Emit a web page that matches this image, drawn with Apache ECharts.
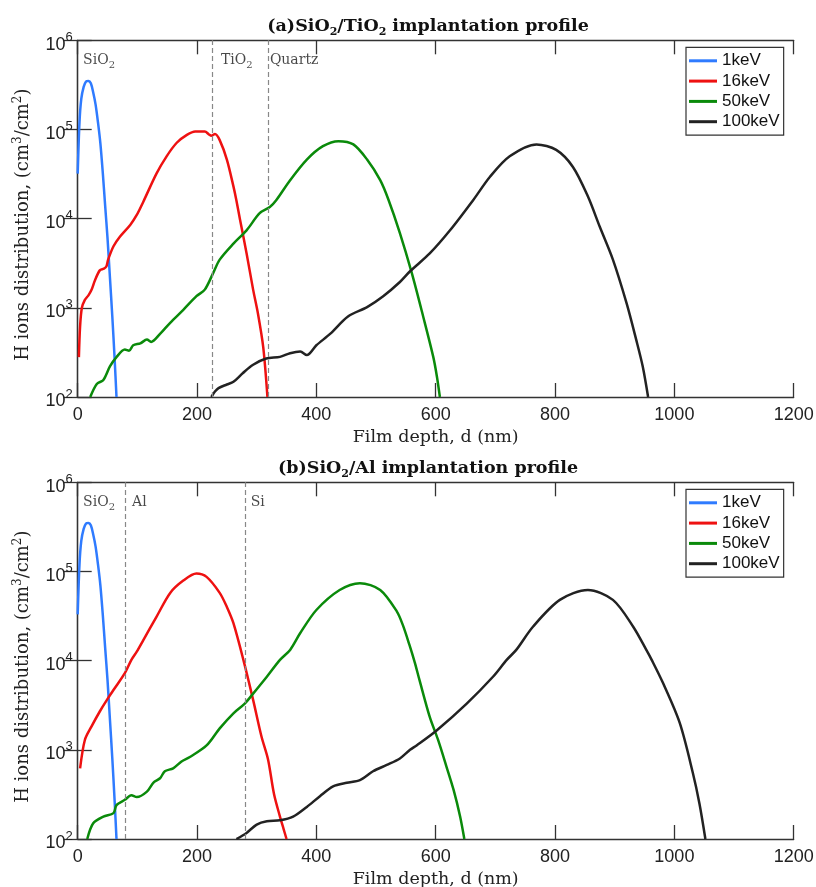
<!DOCTYPE html>
<html><head><meta charset="utf-8">
<script src="https://cdn.jsdelivr.net/npm/echarts@6/dist/echarts.min.js"></script>
<style>html,body{margin:0;padding:0;background:#fff}#c{width:816px;height:887px}</style>
</head><body><div id="c"></div><script>
const energies = ['1keV', '16keV', '50keV', '100keV'];
const colors = ['#2f7bff', '#ee1111', '#0a8a0a', '#222222'];

// (a) SiO2/TiO2
const a1 = [[0,32000],[3,120000],[6,220000],[10,300000],[14,345000],[18,350000],[22,330000],[26,260000],[30,190000],[34,120000],[38,70000],[42,33000],[46,14000],[50,6000],[54,2200],[58,800],[62,260],[65,100]];
const a16 = [[2,280],[4,620],[7,1000],[12,1230],[18,1380],[23,1580],[29,2040],[37,2630],[44,2750],[48,2900],[51,3470],[60,4900],[71,6300],[88,8500],[99,11000],[110,15500],[132,32000],[149,50000],[166,71000],[183,87000],[197,95000],[213,95000],[220,88000],[224,85000],[230,89000],[238,76000],[250,46000],[261,23000],[266,16000],[272,9800],[283,4100],[294,1600],[302,870],[311,360],[318,100]];
const a50 = [[21,100],[32,140],[43,155],[54,220],[65,280],[79,340],[86,330],[93,380],[105,400],[116,440],[123,415],[138,510],[155,680],[177,950],[199,1350],[213,1600],[227,2450],[238,3470],[261,5250],[283,7400],[305,11500],[322,13500],[333,16200],[356,27000],[384,46000],[411,65000],[437,74000],[462,68000],[485,46000],[507,27000],[521,16200],[540,6900],[560,2450],[579,800],[596,280],[602,170],[607,100]];
const a100 = [[224,100],[230,115],[236,126],[250,138],[261,148],[277,186],[294,230],[316,270],[339,282],[356,310],[373,324],[384,295],[400,380],[423,510],[453,800],[485,1020],[512,1350],[540,1950],[557,2570],[590,4070],[624,7400],[663,16200],[691,29500],[724,50000],[769,68000],[802,59000],[830,38000],[855,17800],[875,8100],[897,3470],[920,1120],[936,440],[947,220],[956,100]];

// (b) SiO2/Al
const b1 = [[0,33000],[3,120000],[6,220000],[10,300000],[14,345000],[18,350000],[22,330000],[26,260000],[30,190000],[34,120000],[38,70000],[42,33000],[46,14000],[50,6000],[54,2200],[58,800],[62,260],[65,100]];
const b16 = [[4,620],[12,1290],[23,1820],[37,2690],[49,3630],[62,4900],[79,7240],[90,10200],[99,12600],[110,17000],[132,31000],[155,57500],[177,79000],[199,95000],[216,87000],[238,57500],[250,40000],[261,26300],[278,10000],[294,3630],[308,1410],[319,780],[329,320],[339,178],[345,130],[350,100]];
const b50 = [[16,100],[26,150],[43,178],[60,195],[65,240],[79,275],[90,310],[99,295],[116,340],[127,430],[138,480],[146,575],[160,620],[174,740],[188,830],[216,1120],[238,1740],[261,2570],[280,3300],[294,4270],[317,6600],[339,10200],[356,13200],[373,20400],[400,37000],[439,62000],[473,74000],[507,62000],[535,35500],[545,25000],[556,15000],[565,9500],[573,6000],[590,2340],[604,1290],[618,650],[630,355],[641,178],[648,100]];
const b100 = [[266,100],[283,117],[300,145],[317,158],[339,162],[361,178],[384,229],[406,302],[428,389],[451,427],[473,457],[495,575],[518,676],[540,800],[557,1000],[568,1120],[602,1660],[652,3300],[696,6600],[719,10200],[735,13200],[763,24000],[808,48000],[855,62000],[897,48000],[931,24000],[953,13200],[962,10200],[981,5600],[1009,2000],[1031,550],[1042,250],[1052,100]];

const layersA = [225, 320];
const layersB = [80, 280];
const layerLabelsA = [['SiO_2', 9], ['TiO_2', 240], ['Quartz', 322]];
const layerLabelsB = [['SiO_2', 9], ['Al', 91], ['Si', 290]];
const layerLabelY = 600000;
const titles = ['{b|(a)}{t|SiO}{s|2}{t|/TiO}{s|2}{t| implantation profile}', '{b|(b)}{t|SiO}{s|2}{t|/Al implantation profile}'];

const SERIF = '"DejaVu Serif", serif';
const SANS = '"Liberation Sans", Arial, sans-serif';

function subRich(s) {
  return s.split(/_(\d)/).map((p, i) => p === '' ? '' : (i % 2 ? '{s|' + p + '}' : '{n|' + p + '}')).join('');
}

const gridTops = [40.3, 482.3];
const gridH = 356.7;
const chart = echarts.init(document.getElementById('c'));

const grids = [], xAxes = [], yAxes = [], series = [], legends = [], titleOpts = [];
const axisLineStyle = { color: '#333', width: 1.3 };

[0, 1].forEach(g => {
  grids.push({ left: 77.7, top: gridTops[g], width: 716, height: gridH, containLabel: false, outerBoundsMode: 'none' });
  const xBase = { type: 'value', gridIndex: g, min: 0, max: 1200, interval: 200,
    axisLine: { show: true, lineStyle: axisLineStyle }, splitLine: { show: false },
    axisTick: { show: true, inside: true, length: 14, lineStyle: axisLineStyle } };
  xAxes.push(Object.assign({}, xBase, { position: 'bottom',
    name: 'Film depth, d (nm)', nameLocation: 'middle', nameGap: 31,
    nameTextStyle: { fontFamily: SERIF, fontSize: 17.5, color: '#222' },
    axisLabel: { fontFamily: SANS, fontSize: 18, color: '#222', margin: 9, formatter: v => String(v) } }));
  xAxes.push(Object.assign({}, xBase, { position: 'top', axisLabel: { show: false } }));
  const yBase = { type: 'log', logBase: 10, gridIndex: g, min: 100, max: 1000000,
    axisLine: { show: true, lineStyle: axisLineStyle }, splitLine: { show: false }, minorTick: { show: false },
    axisTick: { show: true, inside: true, length: 14, lineStyle: axisLineStyle } };
  yAxes.push(Object.assign({}, yBase, { position: 'left',
    name: '{n|H ions distribution, (cm}{p|3}{n|/cm}{p|2}{n|)}', nameLocation: 'middle', nameGap: 42, nameRotate: 90,
    nameTextStyle: { padding: [0, 12, 0, 0], rich: { n: { fontFamily: SERIF, fontSize: 18, color: '#222', lineHeight: 24 },
      p: { fontFamily: SERIF, fontSize: 12, color: '#222', lineHeight: 12, verticalAlign: 'top' } } },
    axisLabel: { margin: 5, padding: [9, 0, 0, 0], formatter: v => '{b|10}{p|' + Math.round(Math.log10(v)) + '}',
      rich: { b: { fontFamily: SANS, fontSize: 18, color: '#222', lineHeight: 28 },
        p: { fontFamily: SANS, fontSize: 13, color: '#222', lineHeight: 13, verticalAlign: 'top' } } } }));
  yAxes.push(Object.assign({}, yBase, { position: 'right', axisLabel: { show: false } }));

  const data = g === 0 ? [a1, a16, a50, a100] : [b1, b16, b50, b100];
  const layers = g === 0 ? layersA : layersB;
  const labels = g === 0 ? layerLabelsA : layerLabelsB;
  data.forEach((d, i) => {
    const s = { type: 'line', name: energies[i], xAxisIndex: 2 * g, yAxisIndex: 2 * g, data: d,
      symbol: 'none', showSymbol: false, smooth: 0.3, animation: false, z: 3,
      lineStyle: { color: colors[i], width: 2.5 }, itemStyle: { color: colors[i] } };
    if (i === 0) {
      s.markLine = { silent: true, symbol: ['none', 'none'], animation: false, label: { show: false },
        lineStyle: { type: [5, 3], color: '#888', width: 1.2 },
        data: layers.map(x => ({ xAxis: x })) };
    }
    series.push(s);
  });
  series.push({ type: 'scatter', xAxisIndex: 2 * g, yAxisIndex: 2 * g, symbolSize: 0.1, silent: true, animation: false,
    itemStyle: { color: 'rgba(0,0,0,0)' },
    data: labels.map(l => [l[1], layerLabelY, l[0]]),
    label: { show: true, position: 'right', distance: 0, formatter: p => subRich(p.data[2]),
      rich: { n: { fontFamily: SERIF, fontSize: 14, color: '#1a1a1a', lineHeight: 20 },
        s: { fontFamily: SERIF, fontSize: 10, color: '#1a1a1a', lineHeight: 11, verticalAlign: 'bottom' } } } });

  legends.push({ orient: 'vertical', left: 686, top: gridTops[g] + 7, data: energies,
    icon: 'rect', itemWidth: 28, itemHeight: 3, itemGap: 3.3, padding: [5, 4, 5, 3],
    borderColor: '#333', borderWidth: 1.2, backgroundColor: '#fff', selectedMode: false,
    textStyle: { fontFamily: SANS, fontSize: 17, color: '#111' } });

  titleOpts.push({ text: titles[g], left: 423, top: gridTops[g] - 30, textAlign: 'center',
    textStyle: { rich: {
      b: { fontFamily: SERIF, fontSize: 17.5, fontWeight: 'bold', color: '#111', lineHeight: 22 },
      t: { fontFamily: SERIF, fontSize: 17.5, fontWeight: 'bold', color: '#111', lineHeight: 22 },
      s: { fontFamily: SERIF, fontSize: 11, fontWeight: 'bold', color: '#111', lineHeight: 12, verticalAlign: 'bottom' } } } });
});

chart.setOption({ animation: false, backgroundColor: '#fff', title: titleOpts, grid: grids,
  xAxis: xAxes, yAxis: yAxes, legend: legends, series: series });
</script></body></html>
